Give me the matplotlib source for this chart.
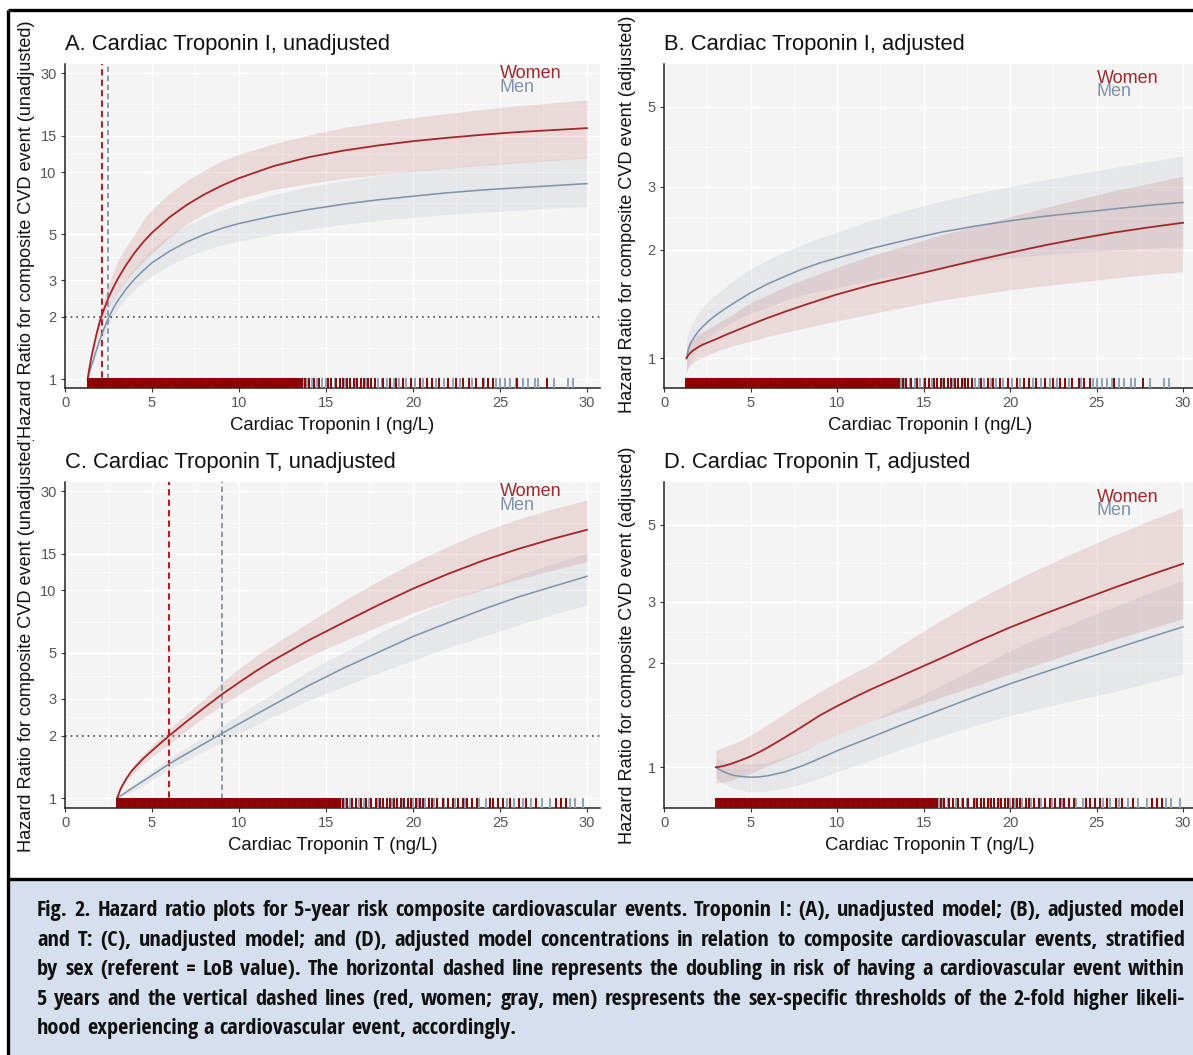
import numpy as np
import matplotlib
matplotlib.use("Agg")
import matplotlib.pyplot as plt
from matplotlib.lines import Line2D
from matplotlib.patches import Rectangle
from matplotlib.transforms import Bbox, TransformedBbox, blended_transform_factory
from matplotlib import font_manager
from matplotlib.font_manager import FontProperties

plt.rcParams['font.family'] = ['Liberation Sans', 'DejaVu Sans']

# ---------------- values ----------------
tni_x = [1.3, 1.4, 1.5, 1.6, 1.8, 2.0, 2.2, 2.5, 2.8, 3.0, 3.5, 4, 4.5, 5, 6, 7, 8, 9, 10,
         12, 14, 16, 18, 20, 22, 24, 26, 28, 30]
tnt_x = [3.0, 3.2, 3.5, 3.8, 4.0, 4.5, 5, 5.5, 6, 7, 8, 9, 10, 11, 12, 14, 16, 18, 20, 22, 24, 26, 28, 30]

# A. troponin I, unadjusted
a_women = [1.0, 1.13, 1.26, 1.38, 1.64, 1.9, 2.13, 2.48, 2.8, 3.02, 3.55, 4.08, 4.6, 5.1, 6.05, 6.95, 7.8, 8.6, 9.35,
           10.7, 11.8, 12.7, 13.45, 14.1, 14.65, 15.15, 15.6, 15.95, 16.3]
a_women_hi = [1.0, 1.15, 1.3, 1.45, 1.77, 2.08, 2.4, 2.88, 3.35, 3.7, 4.35, 5.0, 5.9, 6.6, 7.9, 9.1, 10.2, 11.3, 12.2,
              13.7, 15.1, 16.4, 17.4, 18.3, 19.2, 20.1, 20.9, 21.6, 22.3]
a_women_lo = [1.0, 1.11, 1.22, 1.32, 1.52, 1.73, 1.92, 2.2, 2.45, 2.6, 2.98, 3.35, 3.7, 4.05, 4.85, 5.6, 6.3, 6.9, 7.45,
              8.25, 8.8, 9.3, 9.7, 10.05, 10.45, 10.8, 11.1, 11.4, 11.7]
a_men = [1.0, 1.08, 1.15, 1.22, 1.38, 1.55, 1.72, 1.98, 2.22, 2.37, 2.72, 3.05, 3.35, 3.65, 4.15, 4.6, 5.0, 5.35, 5.65,
         6.15, 6.6, 7.0, 7.35, 7.65, 7.95, 8.2, 8.4, 8.6, 8.8]
a_men_hi = [1.0, 1.1, 1.19, 1.27, 1.46, 1.65, 1.85, 2.15, 2.45, 2.63, 3.05, 3.45, 3.85, 4.25, 4.95, 5.55, 6.05, 6.55, 7.0,
            7.8, 8.5, 9.1, 9.6, 10.1, 10.5, 10.9, 11.2, 11.5, 11.8]
a_men_lo = [1.0, 1.06, 1.11, 1.17, 1.3, 1.45, 1.6, 1.82, 2.02, 2.15, 2.45, 2.7, 2.95, 3.15, 3.55, 3.9, 4.2, 4.45, 4.65,
            5.0, 5.3, 5.6, 5.85, 6.05, 6.25, 6.4, 6.55, 6.7, 6.8]

# B. troponin I, adjusted
b_women = [1.0, 1.02, 1.033, 1.044, 1.061, 1.076, 1.089, 1.105, 1.12, 1.13, 1.158, 1.185, 1.212, 1.24, 1.295, 1.348,
           1.4, 1.452, 1.505, 1.6, 1.685, 1.775, 1.87, 1.965, 2.06, 2.15, 2.235, 2.31, 2.38]
b_women_hi = [1.08, 1.1, 1.115, 1.125, 1.145, 1.165, 1.18, 1.205, 1.228, 1.245, 1.285, 1.325, 1.38, 1.43, 1.5, 1.58,
              1.65, 1.72, 1.79, 1.93, 2.06, 2.2, 2.33, 2.47, 2.62, 2.77, 2.92, 3.06, 3.2]
b_women_lo = [0.92, 0.94, 0.955, 0.965, 0.98, 0.995, 1.005, 1.02, 1.035, 1.045, 1.065, 1.085, 1.1, 1.115, 1.15, 1.18,
              1.21, 1.24, 1.27, 1.33, 1.39, 1.45, 1.5, 1.55, 1.59, 1.63, 1.67, 1.71, 1.74]
b_men = [1.0, 1.055, 1.09, 1.115, 1.155, 1.19, 1.22, 1.26, 1.295, 1.318, 1.37, 1.42, 1.47, 1.52, 1.61, 1.69, 1.77,
         1.84, 1.9, 2.02, 2.13, 2.24, 2.33, 2.41, 2.48, 2.54, 2.6, 2.66, 2.71]
b_men_hi = [1.12, 1.17, 1.21, 1.24, 1.3, 1.34, 1.38, 1.43, 1.48, 1.5, 1.57, 1.64, 1.71, 1.77, 1.88, 1.98, 2.07, 2.16,
            2.24, 2.42, 2.58, 2.73, 2.87, 3.0, 3.13, 3.26, 3.39, 3.52, 3.65]
b_men_lo = [0.9, 0.95, 0.98, 1.0, 1.04, 1.07, 1.1, 1.135, 1.165, 1.185, 1.225, 1.265, 1.3, 1.33, 1.39, 1.45, 1.5, 1.54,
            1.57, 1.65, 1.72, 1.79, 1.85, 1.9, 1.94, 1.97, 2.0, 2.02, 2.04]

# C. troponin T, unadjusted
c_women = [1.0, 1.11, 1.23, 1.34, 1.4, 1.55, 1.69, 1.84, 2.0, 2.34, 2.72, 3.15, 3.6, 4.1, 4.62, 5.75, 7.0, 8.5, 10.2,
           12.0, 13.9, 15.8, 17.7, 19.6]
c_women_hi = [1.0, 1.13, 1.27, 1.39, 1.46, 1.63, 1.8, 1.97, 2.15, 2.55, 3.0, 3.6, 4.2, 4.85, 5.5, 7.0, 8.9, 11.1, 13.6,
              16.3, 19.2, 22.0, 24.7, 27.3]
c_women_lo = [1.0, 1.09, 1.19, 1.28, 1.33, 1.46, 1.58, 1.7, 1.83, 2.12, 2.45, 2.8, 3.15, 3.55, 3.95, 4.8, 5.7, 6.7, 7.8,
              8.9, 10.1, 11.3, 12.5, 13.8]
c_men = [1.0, 1.026, 1.065, 1.107, 1.135, 1.209, 1.288, 1.372, 1.462, 1.637, 1.828, 2.042, 2.275, 2.535, 2.818, 3.48,
         4.22, 5.03, 6.0, 6.98, 8.09, 9.27, 10.42, 11.7]
c_men_hi = [1.0, 1.04, 1.09, 1.14, 1.18, 1.26, 1.35, 1.45, 1.56, 1.76, 1.98, 2.22, 2.52, 2.85, 3.2, 4.1, 5.0, 6.2, 7.5,
            8.8, 10.3, 11.8, 13.4, 15.1]
c_men_lo = [1.0, 1.015, 1.04, 1.07, 1.09, 1.15, 1.22, 1.29, 1.37, 1.52, 1.68, 1.85, 2.05, 2.25, 2.48, 2.95, 3.45, 4.0,
            4.6, 5.3, 6.0, 6.8, 7.65, 8.5]

# D. troponin T, adjusted
d_women = [1.0, 1.003, 1.01, 1.02, 1.028, 1.05, 1.075, 1.105, 1.14, 1.22, 1.31, 1.41, 1.5, 1.59, 1.68, 1.86, 2.06, 2.29,
           2.53, 2.77, 3.02, 3.29, 3.57, 3.86]
d_women_hi = [1.12, 1.13, 1.145, 1.16, 1.17, 1.2, 1.24, 1.28, 1.33, 1.43, 1.54, 1.65, 1.76, 1.87, 1.98, 2.3, 2.65, 3.02,
              3.4, 3.8, 4.22, 4.66, 5.12, 5.6]
d_women_lo = [0.9, 0.902, 0.908, 0.915, 0.92, 0.94, 0.96, 0.985, 1.01, 1.06, 1.11, 1.18, 1.24, 1.3, 1.36, 1.47, 1.59,
              1.72, 1.86, 2.01, 2.17, 2.33, 2.5, 2.68]
d_men = [1.0, 0.985, 0.968, 0.955, 0.948, 0.94, 0.936, 0.938, 0.945, 0.97, 1.01, 1.06, 1.115, 1.168, 1.222, 1.34, 1.465,
         1.6, 1.74, 1.88, 2.03, 2.19, 2.36, 2.54]
d_men_hi = [1.07, 1.055, 1.04, 1.03, 1.025, 1.02, 1.02, 1.025, 1.035, 1.07, 1.12, 1.18, 1.24, 1.3, 1.36, 1.53, 1.72,
            1.93, 2.17, 2.4, 2.65, 2.9, 3.17, 3.45]
d_men_lo = [0.93, 0.915, 0.895, 0.88, 0.87, 0.857, 0.85, 0.85, 0.855, 0.87, 0.895, 0.93, 0.97, 1.01, 1.05, 1.14, 1.23,
            1.32, 1.41, 1.49, 1.57, 1.65, 1.75, 1.86]

# observed concentrations (rug), ng/L
tni_rug_women = [1.3, 1.4, 1.5, 1.6, 1.7, 1.8, 1.9, 2.0, 2.1, 2.2, 2.3, 2.4, 2.5, 2.6, 2.7, 2.8, 2.9, 3.0, 3.1, 3.2,
                 3.3, 3.4, 3.5, 3.6, 3.7, 3.8, 3.9, 4.0, 4.1, 4.2, 4.3, 4.4, 4.5, 4.6, 4.7, 4.8, 4.9, 5.0, 5.1, 5.2,
                 5.3, 5.4, 5.5, 5.6, 5.7, 5.8, 5.9, 6.0, 6.1, 6.2, 6.3, 6.4, 6.5, 6.6, 6.7, 6.8, 6.9, 7.0, 7.1, 7.2,
                 7.3, 7.4, 7.5, 7.6, 7.7, 7.8, 7.9, 8.0, 8.1, 8.2, 8.3, 8.4, 8.5, 8.6, 8.7, 8.8, 8.9, 9.0, 9.1, 9.2,
                 9.3, 9.4, 9.5, 9.6, 9.7, 9.8, 9.9, 10.0, 10.1, 10.2, 10.3, 10.4, 10.5, 10.6, 10.7, 10.8, 10.9, 11.0, 11.1, 11.2,
                 11.3, 11.4, 11.5, 11.6, 11.7, 11.8, 11.9, 12.0, 12.1, 12.2, 12.3, 12.4, 12.5, 12.6, 12.7, 12.8, 12.9, 13.0, 13.1, 13.2,
                 13.3, 13.4, 13.5, 13.6,
                 13.8, 14.0, 14.3, 14.6, 15.1, 15.3, 15.6, 15.8, 16.0, 16.2, 16.4, 16.6, 16.8, 17.0, 17.2, 17.4, 17.6, 17.8,
                 18.3, 18.7, 19.0, 19.4, 19.9, 20.4, 20.8, 21.1, 21.5, 22.0, 22.5, 22.9, 23.2, 23.6, 24.0, 24.3, 24.6, 26.0, 27.7]
tni_rug_men = [13.7, 13.9, 14.2, 14.5, 14.8, 15.0, 15.5, 16.1, 16.7, 17.3, 18.0, 18.2, 18.5, 18.9, 19.2, 19.6, 20.1, 20.6,
               21.3, 21.8, 22.3, 22.7, 23.4, 24.1, 24.8, 25.0, 25.3, 25.6, 25.9, 26.3, 26.6, 27.0, 27.2, 28.1, 28.9, 29.2]
tnt_rug_women = [3.0, 3.1, 3.2, 3.3, 3.4, 3.5, 3.6, 3.7, 3.8, 3.9, 4.0, 4.1, 4.2, 4.3, 4.4, 4.5, 4.6, 4.7, 4.8, 4.9,
                 5.0, 5.1, 5.2, 5.3, 5.4, 5.5, 5.6, 5.7, 5.8, 5.9, 6.0, 6.1, 6.2, 6.3, 6.4, 6.5, 6.6, 6.7, 6.8, 6.9,
                 7.0, 7.1, 7.2, 7.3, 7.4, 7.5, 7.6, 7.7, 7.8, 7.9, 8.0, 8.1, 8.2, 8.3, 8.4, 8.5, 8.6, 8.7, 8.8, 8.9,
                 9.0, 9.1, 9.2, 9.3, 9.4, 9.5, 9.6, 9.7, 9.8, 9.9, 10.0, 10.1, 10.2, 10.3, 10.4, 10.5, 10.6, 10.7, 10.8, 10.9,
                 11.0, 11.1, 11.2, 11.3, 11.4, 11.5, 11.6, 11.7, 11.8, 11.9, 12.0, 12.1, 12.2, 12.3, 12.4, 12.5, 12.6, 12.7, 12.8, 12.9,
                 13.0, 13.1, 13.2, 13.3, 13.4, 13.5, 13.6, 13.7, 13.8, 13.9, 14.0, 14.1, 14.2, 14.3, 14.4, 14.5, 14.6, 14.7, 14.8, 14.9,
                 15.0, 15.1, 15.2, 15.3, 15.4, 15.5, 15.6, 15.7, 15.8,
                 16.0, 16.2, 16.5, 16.7, 17.0, 17.3, 17.6, 17.9, 18.1, 18.3, 18.5, 18.7, 18.9, 19.1, 19.3,
                 19.5, 19.7, 19.9, 20.2, 20.4, 20.6, 20.9, 21.1, 21.4, 21.7, 22.0, 22.3, 22.6, 22.9, 23.1, 23.4, 23.7, 24.4, 24.6, 24.9,
                 25.2, 25.6, 26.1, 26.5, 27.1, 28.2, 28.5, 28.8]
tnt_rug_men = [14.6, 15.9, 16.1, 16.4, 16.9, 17.2, 17.5, 18.0, 18.8, 19.4, 20.0, 20.3, 20.7, 21.2, 21.8, 22.4, 23.0, 23.8,
               24.2, 25.4, 25.8, 26.3, 26.8, 27.4, 27.9, 29.0, 29.3, 29.8]

# sex-specific 2-fold thresholds (ng/L)
tni_thr = {"women": 2.1, "men": 2.5}
tnt_thr = {"women": 6.0, "men": 9.0}

ticks_unadj = [1, 2, 3, 5, 10, 15, 30]
ticks_adj = [1, 2, 3, 5]
xticks = [0, 5, 10, 15, 20, 25, 30]

titles = ["A. Cardiac Troponin I, unadjusted", "B. Cardiac Troponin I, adjusted",
          "C. Cardiac Troponin T, unadjusted", "D. Cardiac Troponin T, adjusted"]
xlabels = ["Cardiac Troponin I (ng/L)", "Cardiac Troponin T (ng/L)"]
ylabels = ["Hazard Ratio for composite CVD event (unadjusted)",
           "Hazard Ratio for composite CVD event (adjusted)"]

caption = [
    "Hazard ratio plots for 5-year risk composite cardiovascular events. Troponin I: (A), unadjusted model; (B), adjusted model",
    "and T: (C), unadjusted model; and (D), adjusted model concentrations in relation to composite cardiovascular events, stratified",
    "by sex (referent = LoB value). The horizontal dashed line represents the doubling in risk of having a cardiovascular event within",
    "5 years and the vertical dashed lines (red, women; gray, men) respresents the sex-specific thresholds of the 2-fold higher likeli-",
    "hood experiencing a cardiovascular event, accordingly.",
]

# ---------------- styling ----------------
W, H = 1193, 1055
RED, RED_RUG, RED_BAND = "#a3262a", "#8b0000", "#b23b3b"
GRAY, GRAY_RUG, GRAY_BAND = "#7d92a8", "#8fa2b6", "#8a9cb0"
PANEL_BG = "#f4f4f4"
TICK_COL = "#555555"

fig = plt.figure(figsize=(W / 100, H / 100), dpi=100)


def fx(px):
    return px / W


def fy(py):
    return 1 - py / H


def minor_between(vals, log=False):
    return [np.sqrt(a * b) if log else (a + b) / 2 for a, b in zip(vals[:-1], vals[1:])]


def panel(left, top, width, height, xs, women, wlo, whi, men, mlo, mhi, ylim, yticks,
          rug_w, rug_m, thr, title, xlab, legend_y, hline=False):
    ax = fig.add_axes([fx(left), fy(top + height), fx(width), height / H])
    ax.set_facecolor(PANEL_BG)
    ax.set_yscale("log")
    # grid (white, ggplot-like)
    for v in xticks:
        ax.axvline(v, color="white", lw=1.0, zorder=0)
    for v in minor_between(xticks):
        ax.axvline(v, color="white", lw=0.5, zorder=0)
    for v in yticks:
        ax.axhline(v, color="white", lw=1.0, zorder=0)
    for v in minor_between(yticks, log=True):
        ax.axhline(v, color="white", lw=0.5, zorder=0)

    ax.fill_between(xs, mlo, mhi, color=GRAY_BAND, alpha=0.14, lw=0, zorder=1)
    ax.fill_between(xs, wlo, whi, color=RED_BAND, alpha=0.14, lw=0, zorder=1)
    ax.plot(xs, men, color=GRAY, lw=1.1, zorder=3)
    ax.plot(xs, women, color=RED, lw=1.3, zorder=3)

    if hline:
        ax.axhline(2, color="#444444", lw=1.2, ls=(0, (1, 2.4)), zorder=2)
        ax.axvline(thr["women"], color=RED, lw=1.5, ls=(0, (3.0, 2.0)), zorder=2)
        ax.axvline(thr["men"], color=GRAY, lw=1.3, ls=(0, (3.0, 2.0)), zorder=2)

    tr = blended_transform_factory(ax.transData, ax.transAxes)
    ax.vlines(rug_m, 0, 0.03, transform=tr, color=GRAY_RUG, lw=1.4, zorder=4)
    ax.vlines(rug_w, 0, 0.03, transform=tr, color=RED_RUG, lw=1.4, zorder=4)

    ax.text(25, legend_y[1], "Men", color=GRAY, fontsize=13, ha="left", va="center", zorder=5)
    ax.text(25, legend_y[0], "Women", color=RED, fontsize=13, ha="left", va="center", zorder=5)

    ax.set_xlim(0, 30.75)
    ax.set_ylim(*ylim)
    ax.set_xticks(xticks)
    ax.set_yticks(yticks)
    ax.set_yticklabels([str(v) for v in yticks])
    ax.yaxis.set_minor_locator(matplotlib.ticker.NullLocator())
    ax.tick_params(axis="both", labelsize=10.5, colors="#333333", labelcolor=TICK_COL,
                   length=3, width=0.8, pad=3)
    for s in ("top", "right"):
        ax.spines[s].set_visible(False)
    for s in ("left", "bottom"):
        ax.spines[s].set_color("#222222")
        ax.spines[s].set_linewidth(1.1)

    fig.text(fx(left), fy(top - 14), title, fontsize=15.8, color="#111111", ha="left", va="baseline")
    fig.text(fx(left + width / 2), fy(top + height + 42.5), xlab, fontsize=13.3, color="#111111",
             ha="center", va="baseline")
    return ax


def ylabel(text, x, y, va, clip_top, clip_bot):
    t = fig.text(fx(x), fy(y), text, rotation=90, ha="center", va=va, fontsize=13.1, color="#111111")
    bb = Bbox.from_extents(0, fy(clip_bot), 1, fy(clip_top))
    t.set_clip_box(TransformedBbox(bb, fig.transFigure))
    t.set_clip_on(True)


panel(65, 64, 535, 324, tni_x, a_women, a_women_lo, a_women_hi, a_men, a_men_lo, a_men_hi,
      (0.908, 33.25), ticks_unadj, tni_rug_women, tni_rug_men, tni_thr, titles[0], xlabels[0], (30, 25.6), hline=True)
panel(664, 64, 532, 324, tni_x, b_women, b_women_lo, b_women_hi, b_men, b_men_lo, b_men_hi,
      (0.827, 6.57), ticks_adj, tni_rug_women, tni_rug_men, tni_thr, titles[1], xlabels[0], (6.0, 5.5))
panel(65, 482, 535, 326, tnt_x, c_women, c_women_lo, c_women_hi, c_men, c_men_lo, c_men_hi,
      (0.895, 33.3), ticks_unadj, tnt_rug_women, tnt_rug_men, tnt_thr, titles[2], xlabels[1], (30, 25.6), hline=True)
panel(664, 482, 532, 326, tnt_x, d_women, d_women_lo, d_women_hi, d_men, d_men_lo, d_men_hi,
      (0.763, 6.64), ticks_adj, tnt_rug_women, tnt_rug_men, tnt_thr, titles[3], xlabels[1], (6.0, 5.5))

ylabel(ylabels[0], 27, 438, "bottom", 12, 440)
ylabel(ylabels[1], 627, 214, "center", 12, 440)
ylabel(ylabels[0], 27, 852, "bottom", 440, 878)
ylabel(ylabels[1], 627, 645, "center", 440, 878)

# frame and caption box
fig.patches.append(Rectangle((fx(9), 0), 1, fy(880), transform=fig.transFigure,
                             facecolor="#d6dfed", edgecolor="none", zorder=0))
for xs_, ys_ in [([8, 1193], [10, 10]), ([8, 8], [10, 1055]), ([8, 1193], [879, 879])]:
    fig.lines.append(Line2D([fx(v) for v in xs_], [fy(v) for v in ys_], transform=fig.transFigure,
                            color="black", lw=2.4, solid_capstyle="butt"))


# caption font: a condensed sans if one is installed
def _wnum(w):
    if isinstance(w, str):
        return font_manager.weight_dict.get(w, 400)
    return int(w)


def pick_caption_fonts():
    entries = [f for f in font_manager.fontManager.ttflist
               if f.style == "normal" and f.fname.lower().endswith((".ttf", ".otf"))]
    narrow = [f for f in entries
              if "condensed" in str(f.stretch) or "Narrow" in f.name or "Condensed" in f.name]
    order = ["Liberation Sans Narrow", "Noto Sans", "Open Sans", "Roboto", "DejaVu Sans", "Lato", "Inter"]
    for fam in order:
        pool = [f for f in narrow if f.name.startswith(fam)]
        if fam == "Noto Sans":
            pool = [f for f in pool if f.name in ("Noto Sans", "Noto Sans Condensed")]
        if pool:
            body = min(pool, key=lambda f: (abs(_wnum(f.weight) - 560), -_wnum(f.weight)))
            bold = min(pool, key=lambda f: (abs(_wnum(f.weight) - 700), -_wnum(f.weight)))
            return FontProperties(fname=body.fname), FontProperties(fname=bold.fname)
    return FontProperties(family="Liberation Sans"), FontProperties(family="Liberation Sans", weight="bold")


fp_body, fp_bold = pick_caption_fonts()

fig.canvas.draw()
rend = fig.canvas.get_renderer()


def text_w(s, size, fp):
    p = fp.copy()
    p.set_size(size)
    t = fig.text(0, 0, s, fontproperties=p)
    w = t.get_window_extent(rend).width
    t.remove()
    return w


cap_left, cap_right = 37, 1185
lines_words = []
for i, line in enumerate(caption):
    words = [(w, fp_body) for w in line.split(" ")]
    if i == 0:
        words = [("Fig.", fp_bold), ("2.", fp_bold)] + words
    lines_words.append(words)

base = 10.0
space = text_w("a a", base, fp_body) - text_w("aa", base, fp_body)
nat = [sum(text_w(w, base, fp) for w, fp in ws) + space * (len(ws) - 1) for ws in lines_words[:4]]
size = base * (cap_right - cap_left) * 0.985 / max(nat)

for i, ws in enumerate(lines_words):
    y = 916 + 29.6 * i
    widths = [text_w(w, size, fp) for w, fp in ws]
    if i < 4:
        gap = ((cap_right - cap_left) - sum(widths)) / (len(ws) - 1)
    else:
        gap = space * size / base
    x = cap_left
    for (w, fp), wd in zip(ws, widths):
        p = fp.copy()
        p.set_size(size)
        fig.text(fx(x), fy(y), w, fontproperties=p, color="#111111", ha="left", va="baseline")
        x += wd + gap

fig.savefig("out.png", dpi=100)
